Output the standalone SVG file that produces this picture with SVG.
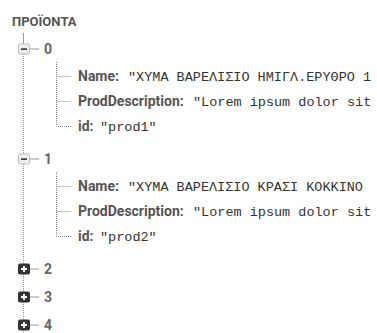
<svg xmlns="http://www.w3.org/2000/svg" width="377" height="333" viewBox="0 0 377 333">
  <style>
    .title { font-family: Roboto, "Liberation Sans", sans-serif; font-weight: bold; font-size: 13px; fill: #555; }
    .key { font-family: Roboto, "Liberation Sans", sans-serif; font-weight: bold; font-size: 14px; fill: #555; }
    .num { font-family: Roboto, "Liberation Sans", sans-serif; font-weight: bold; font-size: 14px; fill: #666; }
    .val { font-family: "Liberation Mono", "DejaVu Sans Mono", monospace; font-size: 13.5px; fill: #333; }
    .trunk { stroke: #999; stroke-width: 1; stroke-dasharray: 1 1; fill: none; }
    .solid { stroke: #999; stroke-width: 1; fill: none; }
    .dot { stroke: #888; stroke-width: 1; stroke-dasharray: 1 1; fill: none; }
    .open { fill: #eee; stroke: #bbb; stroke-width: 1; }
    .shut { fill: #333; }
  </style>

  <text class="title" x="12" y="26">ΠΡΟΪΟΝΤΑ</text>

  <!-- connectors -->
  <g id="connectors">
    <line class="solid" x1="23.5" y1="33" x2="23.5" y2="44"/>
    <line class="trunk" x1="23.5" y1="54" x2="23.5" y2="333"/>
    <line class="solid" x1="30" y1="49" x2="39" y2="49"/>
    <line class="solid" x1="30" y1="159" x2="39" y2="159"/>
    <line class="solid" x1="30" y1="269" x2="39" y2="269"/>
    <line class="solid" x1="30" y1="297" x2="39" y2="297"/>
    <line class="solid" x1="30" y1="325" x2="39" y2="325"/>
    <!-- children of 0 -->
    <path class="dot" d="M56.5 62 V126.5 H71"/>
    <line class="dot" x1="56.5" y1="76.5" x2="71" y2="76.5"/>
    <line class="dot" x1="56.5" y1="101.5" x2="71" y2="101.5"/>
    <!-- children of 1 -->
    <path class="dot" d="M56.5 172 V236.5 H71"/>
    <line class="dot" x1="56.5" y1="186.5" x2="71" y2="186.5"/>
    <line class="dot" x1="56.5" y1="211.5" x2="71" y2="211.5"/>
  </g>

  <!-- node 0 -->
  <g id="node-0">
    <rect class="open" x="18.5" y="44" width="11" height="10" rx="1.5"/>
    <rect x="21" y="48.3" width="6" height="1.6" fill="#333"/>
    <text class="num" x="44" y="54">0</text>
  </g>
  <g id="node-0-name">
    <text class="key" x="78" y="81">Name:</text>
    <text class="val" x="128" y="81">"ΧΥΜΑ ΒΑΡΕΛΙΣΙΟ ΗΜΙΓΛ.ΕΡΥΘΡΟ 1</text>
  </g>
  <g id="node-0-desc">
    <text class="key" x="78" y="106">ProdDescription:</text>
    <text class="val" x="193" y="106">"Lorem ipsum dolor sit</text>
  </g>
  <g id="node-0-id">
    <text class="key" x="78" y="131">id:</text>
    <text class="val" x="100" y="131">"prod1"</text>
  </g>

  <!-- node 1 -->
  <g id="node-1">
    <rect class="open" x="18.5" y="154" width="11" height="10" rx="1.5"/>
    <rect x="21" y="158.3" width="6" height="1.6" fill="#333"/>
    <text class="num" x="44" y="164">1</text>
  </g>
  <g id="node-1-name">
    <text class="key" x="78" y="191">Name:</text>
    <text class="val" x="128" y="191">"ΧΥΜΑ ΒΑΡΕΛΙΣΙΟ ΚΡΑΣΙ ΚΟΚΚΙΝΟ</text>
  </g>
  <g id="node-1-desc">
    <text class="key" x="78" y="216">ProdDescription:</text>
    <text class="val" x="193" y="216">"Lorem ipsum dolor sit</text>
  </g>
  <g id="node-1-id">
    <text class="key" x="78" y="241">id:</text>
    <text class="val" x="100" y="241">"prod2"</text>
  </g>

  <!-- collapsed nodes -->
  <g id="node-2">
    <rect class="shut" x="18" y="263.5" width="12" height="11" rx="2"/>
    <path d="M21 269 H27 M24 266 V272" stroke="#fff" stroke-width="1.8"/>
    <text class="num" x="44" y="274">2</text>
  </g>
  <g id="node-3">
    <rect class="shut" x="18" y="291.5" width="12" height="11" rx="2"/>
    <path d="M21 297 H27 M24 294 V300" stroke="#fff" stroke-width="1.8"/>
    <text class="num" x="44" y="302">3</text>
  </g>
  <g id="node-4">
    <rect class="shut" x="18" y="319.5" width="12" height="11" rx="2"/>
    <path d="M21 325 H27 M24 322 V328" stroke="#fff" stroke-width="1.8"/>
    <text class="num" x="44" y="330">4</text>
  </g>
</svg>
